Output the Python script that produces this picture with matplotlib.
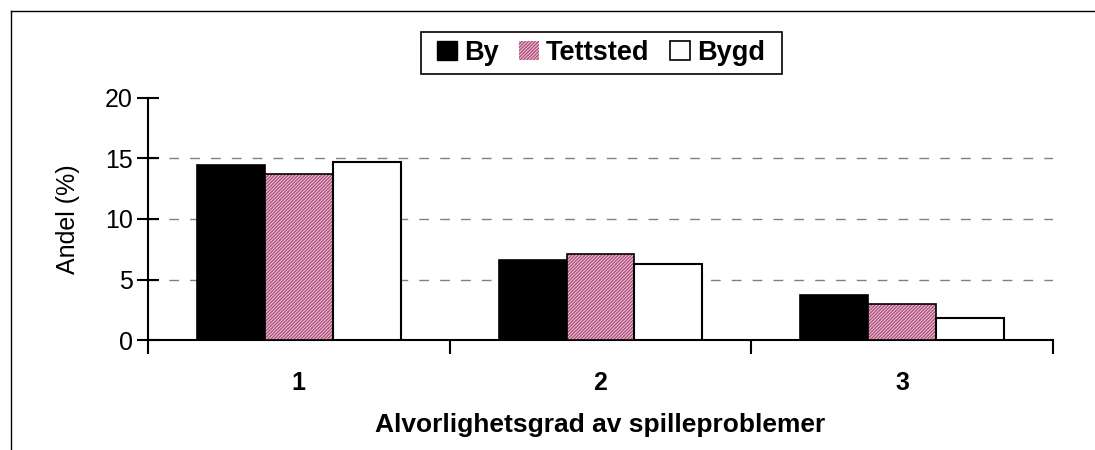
import matplotlib
matplotlib.use("Agg")
import matplotlib.pyplot as plt
import numpy as np
from matplotlib.lines import Line2D
from matplotlib.patches import Rectangle

plt.rcParams['font.family'] = ['Liberation Sans', 'DejaVu Sans']

categories = ["1", "2", "3"]
series_names = ["By", "Tettsted", "Bygd"]
by_vals = [14.5, 6.6, 3.7]
tettsted_vals = [13.7, 7.1, 3.0]
bygd_vals = [14.7, 6.25, 1.8]
y_ticks = [0, 5, 10, 15, 20]
xlabel = "Alvorlighetsgrad av spilleproblemer"
ylabel = "Andel (%)"

W, H = 1095, 450
fig = plt.figure(figsize=(W/100, H/100), dpi=100)
ax = fig.add_axes([148/W, 1 - 340/H, (1053-148)/W, (340-98)/H])

x = np.arange(1, len(categories) + 1)
w = 0.225

plt.rcParams['hatch.linewidth'] = 1.0
pink_face = '#ecc8d8'
pink_hatch = '#b0527f'

ax.bar(x - w, by_vals, w, color='black', edgecolor='black', linewidth=1.2, zorder=3)
ax.bar(x, tettsted_vals, w, color=pink_face, edgecolor=pink_hatch, hatch='//////////', linewidth=0, zorder=3)
ax.bar(x, tettsted_vals, w, fill=False, edgecolor='black', linewidth=1.2, zorder=4)
ax.bar(x + w, bygd_vals, w, color='white', edgecolor='black', linewidth=1.5, zorder=3)

ax.set_xlim(0.5, 3.5)
ax.set_ylim(0, 20)
ax.set_yticks(y_ticks)
ax.set_yticklabels([str(v) for v in y_ticks], fontsize=18)
for v in y_ticks[1:-1]:
    ax.axhline(v, color='#808080', linestyle=(0, (7, 8)), linewidth=1, zorder=1)

ax.set_xticks([0.5, 1.5, 2.5, 3.5])
ax.set_xticklabels([])
ax.set_xticks(x, minor=True)
ax.set_xticklabels(categories, minor=True, fontsize=18, fontweight='bold')
ax.tick_params(axis='x', which='major', direction='out', length=10, width=1.5)
ax.tick_params(axis='x', which='minor', length=0, pad=22)
ax.tick_params(axis='y', direction='inout', length=16, width=1.5, pad=3)

for s in ['top', 'right']:
    ax.spines[s].set_visible(False)
for s in ['left', 'bottom']:
    ax.spines[s].set_linewidth(1.5)

ax.set_xlabel(xlabel, fontsize=19, fontweight='bold', labelpad=13)
ax.set_ylabel(ylabel, fontsize=18, labelpad=18)

handles = [
    plt.Rectangle((0, 0), 1, 1, facecolor='black', edgecolor='black'),
    plt.Rectangle((0, 0), 1, 1, facecolor=pink_face, edgecolor=pink_hatch, hatch='//////////', linewidth=0),
    plt.Rectangle((0, 0), 1, 1, facecolor='white', edgecolor='black', linewidth=1.2),
]
leg = fig.legend(handles, series_names, loc='center', bbox_to_anchor=(601/W, 1 - 53/H),
                 ncol=3, frameon=False, prop={'size': 19.5, 'weight': 'bold'},
                 handlelength=0.75, handleheight=0.75, handletextpad=0.25, columnspacing=0.75,
                 borderpad=0.2, borderaxespad=0)
fig.add_artist(Rectangle((420.5/W, 1 - 73.5/H), (781-420)/W, (73-32)/H, transform=fig.transFigure,
                         fill=False, edgecolor='black', linewidth=1.2))

fig.add_artist(Line2D([10.5/W, 10.5/W], [0, 1 - 10.5/H], color='black', linewidth=1, transform=fig.transFigure))
fig.add_artist(Line2D([10.5/W, 1], [1 - 10.5/H, 1 - 10.5/H], color='black', linewidth=1, transform=fig.transFigure))

fig.savefig('out.png', dpi=100)
